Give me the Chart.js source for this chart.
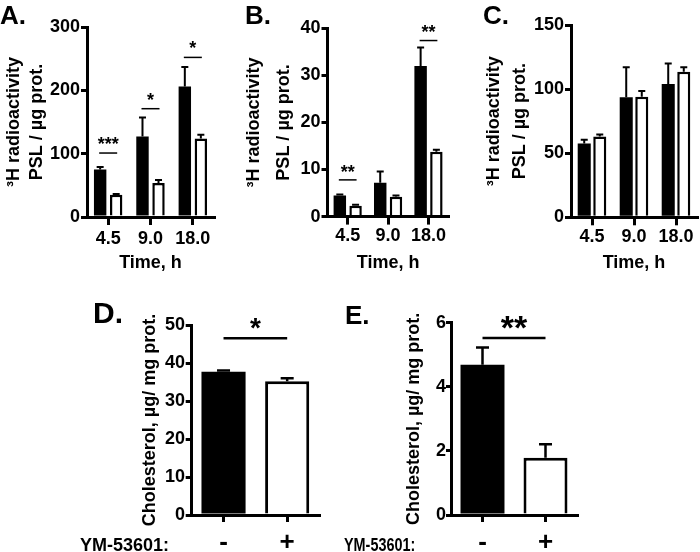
<!DOCTYPE html>
<html>
<head>
<meta charset="utf-8">
<title>YM-53601 panels</title>
<script src="https://cdn.jsdelivr.net/npm/chart.js@4.4.0/dist/chart.umd.min.js"></script>
<style>
  html, body { margin: 0; padding: 0; background: #fff; }
  #page { position: relative; width: 700px; height: 552px; overflow: hidden; }
  #page canvas { position: absolute; }
  .tag {
    position: absolute; color: #000; font-family: "Liberation Sans", Arial, sans-serif;
    font-weight: bold; line-height: 1; white-space: nowrap;
  }
</style>
</head>
<body>
<div id="page">
  <canvas id="chartA" width="230" height="276" style="left:0;top:0"></canvas>
  <canvas id="chartB" width="230" height="276" style="left:230px;top:0"></canvas>
  <canvas id="chartC" width="240" height="276" style="left:460px;top:0"></canvas>
  <canvas id="chartD" width="250" height="262" style="left:90px;top:290px"></canvas>
  <canvas id="chartE" width="350" height="262" style="left:350px;top:290px"></canvas>

  <div class="tag" style="left:0;top:2px;font-size:26px">A.</div>
  <div class="tag" style="left:245px;top:2px;font-size:26px">B.</div>
  <div class="tag" style="left:483px;top:2px;font-size:26px">C.</div>
  <div class="tag" style="left:93px;top:298px;font-size:30px">D.</div>
  <div class="tag" style="left:345px;top:302px;font-size:26px">E.</div>
  <div class="tag" style="left:80px;top:536px;font-size:18px">YM-53601:</div>
  <div class="tag" style="left:344px;top:536px;font-size:18px;transform:scaleX(0.8);transform-origin:left">YM-53601:</div>
</div>

<script>
const FONT = "'Liberation Sans', Arial, sans-serif";

const timeLabels = ["4.5", "9.0", "18.0"];
const doseLabels = ["-", "+"];

// A. 3H radioactivity, PSL / ug prot.
const aTicks = [0, 100, 200, 300];
const aControl = [75, 127, 206];
const aControlErr = [4, 30, 31];
const aDrug = [35, 53.5, 124];
const aDrugErr = [1.5, 5, 6];
const aSigAt = [101, 171, 252];
const aSigText = ["***", "*", "*"];

// B.
const bTicks = [0, 10, 20, 30, 40];
const bControl = [4.5, 7.2, 32];
const bControlErr = [0.2, 2.4, 3.9];
const bDrug = [2.3, 4.2, 13.8];
const bDrugErr = [0.2, 0.3, 0.4];
const bSigAt = [7.8, null, 37.4];
const bSigText = ["**", "", "**"];

// C. (no significant differences)
const cTicks = [0, 50, 100, 150];
const cControl = [57.5, 93.6, 104];
const cControlErr = [3, 23.4, 16];
const cDrug = [63, 94, 113.6];
const cDrugErr = [1.5, 4.5, 3.5];

// D. cholesterol, ug / mg prot.
const dTicks = [0, 10, 20, 30, 40, 50];
const dValues = [37.7, 35.2];
const dErr = [0.3, 0.8];
const dSigAt = 46.5;
const dSigText = "*";

// E.
const eTicks = [0, 2, 4, 6];
const eValues = [4.69, 1.79];
const eErr = [0.54, 0.42];
const eSigAt = 5.52;
const eSigText = "**";

// upper error bars + significance lines, placed through the y scale
function marksPlugin(errors, brackets, st) {
    return {
        id: "marks",
        afterDatasetsDraw(chart) {
            const ctx = chart.ctx;
            const y = chart.scales.y;
            ctx.save();
            ctx.strokeStyle = "#000";
            ctx.fillStyle = "#000";
            ctx.lineWidth = st.errWidth;
            errors.forEach((errs, d) => {
                const values = chart.data.datasets[d].data;
                chart.getDatasetMeta(d).data.forEach((bar, i) => {
                    if (!errs[i]) return;
                    const top = y.getPixelForValue(values[i] + errs[i]);
                    ctx.beginPath();
                    ctx.moveTo(bar.x, bar.y);
                    ctx.lineTo(bar.x, top);
                    ctx.moveTo(bar.x - st.cap, top);
                    ctx.lineTo(bar.x + st.cap, top);
                    ctx.stroke();
                });
            });

            ctx.lineWidth = st.sigWidth;
            ctx.font = `bold ${st.starSize}px ${FONT}`;
            ctx.textAlign = "center";
            ctx.textBaseline = "alphabetic";
            brackets.forEach((b) => {
                const x1 = chart.getDatasetMeta(b.from[0]).data[b.from[1]].x - st.sigExtra;
                const x2 = chart.getDatasetMeta(b.to[0]).data[b.to[1]].x + st.sigExtra;
                const ly = y.getPixelForValue(b.level);
                ctx.beginPath();
                ctx.moveTo(x1, ly);
                ctx.lineTo(x2, ly);
                ctx.stroke();
                ctx.fillText(b.text, (x1 + x2) / 2, ly - st.starLift + 0.535 * st.starSize);
            });
            ctx.restore();
        },
    };
}

function buildScales(p) {
    const black = "#000";
    const x = {
        type: "category",
        offset: true,
        afterFit: (a) => { a.height = p.xHeight; },
        grid: {
            display: true, offset: false, drawOnChartArea: false, drawTicks: true,
            tickLength: p.xTickLen, lineWidth: 3, color: black,
        },
        border: { display: true, width: 3, color: black },
        ticks: {
            color: black, padding: p.xPad, maxRotation: 0, autoSkip: false,
            font: { family: FONT, size: p.xFont, weight: "bold" },
        },
        title: { display: false },
    };
    if (p.xTitle) {
        x.title = {
            display: true, text: p.xTitle, color: black,
            font: { family: FONT, size: 18, weight: "bold", lineHeight: "21.6px" },
            padding: { top: 0, bottom: p.xTitlePad },
        };
    }
    const y = {
        type: "linear",
        min: p.ticks[0],
        max: p.ticks[p.ticks.length - 1],
        afterBuildTicks: (a) => { a.ticks = p.ticks.map((v) => ({ value: v })); },
        afterFit: (a) => { a.width = p.yWidth; },
        grid: {
            display: true, drawOnChartArea: false, drawTicks: true,
            tickLength: p.yTickLen, lineWidth: 3, color: black,
        },
        border: { display: true, width: 3, color: black },
        ticks: {
            color: black, padding: p.yPad,
            font: { family: FONT, size: 18, weight: "bold" },
        },
        title: {
            display: true, text: p.yTitle, color: black,
            font: { family: FONT, size: 18, weight: "bold", lineHeight: p.yTitleLH + "px" },
            padding: { top: p.yTitlePad, bottom: 0 },
        },
    };
    return { x, y };
}

function baseOptions(p) {
    return {
        responsive: false,
        animation: false,
        devicePixelRatio: 1,
        layout: { padding: p.padding },
        plugins: { legend: { display: false }, tooltip: { enabled: false } },
        scales: buildScales(p),
    };
}

function timePanel(id, control, controlErr, drug, drugErr, sigAt, sigText, p) {
    const brackets = (sigAt || [])
        .map((v, i) => (v == null ? null : { from: [0, i], to: [1, i], level: v, text: sigText[i] }))
        .filter(Boolean);
    return new Chart(document.getElementById(id), {
        type: "bar",
        data: {
            labels: timeLabels,
            datasets: [
                {
                    data: control, backgroundColor: "#000", borderColor: "#000", borderWidth: 0,
                    categoryPercentage: p.catPct, barPercentage: p.barPct,
                },
                {
                    data: drug, backgroundColor: "#fff", borderColor: "#000", borderWidth: 2.5,
                    categoryPercentage: p.catPct, barPercentage: p.barPct,
                },
            ],
        },
        options: baseOptions(p),
        plugins: [marksPlugin([controlErr, drugErr], brackets, {
            errWidth: 2, cap: 3.5, sigWidth: 1.5, sigExtra: 1, starSize: 18, starLift: p.starLift,
        })],
    });
}

function dosePanel(id, values, errs, sigAt, sigText, p) {
    return new Chart(document.getElementById(id), {
        type: "bar",
        data: {
            labels: doseLabels,
            datasets: [{
                data: values, backgroundColor: ["#000", "#fff"], borderColor: "#000",
                borderWidth: [0, 3], categoryPercentage: 1, barPercentage: p.barPct,
            }],
        },
        options: baseOptions(p),
        plugins: [marksPlugin([errs], [{ from: [0, 0], to: [0, 1], level: sigAt, text: sigText }], {
            errWidth: 2.5, cap: 6.5, sigWidth: 2.5, sigExtra: 0, starSize: p.starSize, starLift: p.starLift,
        })],
    });
}

const radioTitle = ["\u00b3H radioactivity", "PSL / \u00b5g prot."];
const cholTitle = "Cholesterol, \u00b5g/ mg prot.";

timePanel("chartA", aControl, aControlErr, aDrug, aDrugErr, aSigAt, aSigText, {
    ticks: aTicks, padding: { left: 0, top: 27, right: 16, bottom: 0 },
    yWidth: 87, xHeight: 59, yTickLen: 6, yPad: 1, xTickLen: 8, xPad: 3.2, xFont: 18,
    yTitle: radioTitle, yTitleLH: 23.5, yTitlePad: 2, xTitle: "Time, h", xTitlePad: 1.7,
    catPct: 0.757, barPct: 0.775, starLift: 12.7,
});

timePanel("chartB", bControl, bControlErr, bDrug, bDrugErr, bSigAt, bSigText, {
    ticks: bTicks, padding: { left: 0, top: 28.3, right: 11.3, bottom: 0 },
    yWidth: 97.5, xHeight: 59.4, yTickLen: 6, yPad: 1, xTickLen: 8, xPad: 0.9, xFont: 18,
    yTitle: radioTitle, yTitleLH: 30, yTitlePad: 9, xTitle: "Time, h", xTitlePad: 1.7,
    catPct: 0.78, barPct: 0.79, starLift: 11.7,
});

timePanel("chartC", cControl, cControlErr, cDrug, cDrugErr, null, null, {
    ticks: cTicks, padding: { left: 0, top: 25, right: 3, bottom: 0 },
    yWidth: 111, xHeight: 58.7, yTickLen: 6, yPad: 1, xTickLen: 8, xPad: 0.6, xFont: 18,
    yTitle: radioTitle, yTitleLH: 26, yTitlePad: 21, xTitle: "Time, h", xTitlePad: 1.7,
    catPct: 0.74, barPct: 0.84, starLift: 12,
});

dosePanel("chartD", dValues, dErr, dSigAt, dSigText, {
    ticks: dTicks, padding: { left: 0, top: 35, right: 21, bottom: 0 },
    yWidth: 101.7, xHeight: 37, yTickLen: 6, yPad: 0.7, xTickLen: 7, xPad: 5.7, xFont: 26,
    yTitle: cholTitle, yTitleLH: 21.6, yTitlePad: 49.7,
    barPct: 0.693, starSize: 28, starLift: 16.6,
});

dosePanel("chartE", eValues, eErr, eSigAt, eSigText, {
    ticks: eTicks, padding: { left: 0, top: 32.7, right: 123, bottom: 0 },
    yWidth: 101, xHeight: 37, yTickLen: 5, yPad: 0, xTickLen: 7, xPad: 5.7, xFont: 26,
    yTitle: cholTitle, yTitleLH: 21.6, yTitlePad: 53.2,
    barPct: 0.698, starSize: 34, starLift: 17.5,
});
</script>
</body>
</html>
